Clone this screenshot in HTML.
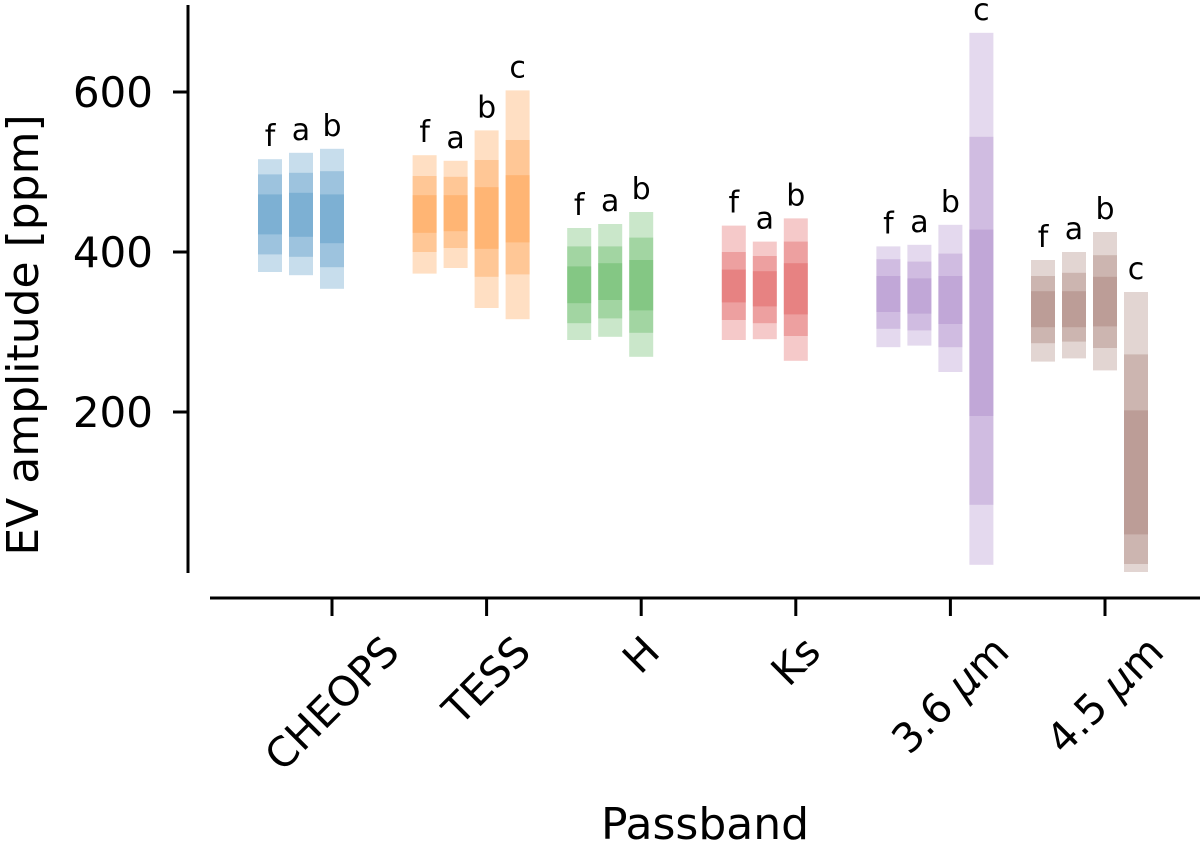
<!DOCTYPE html>
<html><head><meta charset="utf-8"><style>
body{margin:0;background:#fff}
svg{display:block;font-family:"DejaVu Sans","Liberation Sans",sans-serif}
</style></head><body>
<svg id="chart" width="1200" height="844" viewBox="0 0 1200 844"></svg>
<script>
const passbands=["CHEOPS","TESS","H","Ks","3.6 μm","4.5 μm"];
const colors=["#1f77b4","#ff7f0e","#2ca02c","#d62728","#9467bd","#8c564b"];
const planets=[["f","a","b"],["f","a","b","c"],["f","a","b"],["f","a","b"],["f","a","b","c"],["f","a","b","c"]];
// each bar: [lo3, lo2, lo1, hi1, hi2, hi3] in ppm
const cheopsVals=[[375,397,422,472,497,516],[371,394,419,474,499,524],[354,381,411,472,501,529]];
const tessVals=[[373,400,424,471,495,521],[380,405,426,471,494,514],[330,369,404,481,515,552],[316,372,412,496,540,602]];
const hVals=[[290,311,336,382,407,430],[294,317,340,386,407,435],[269,299,327,390,418,450]];
const ksVals=[[290,315,337,378,400,433],[291,311,332,376,395,413],[264,295,322,386,413,442]];
const irac1Vals=[[281,304,325,370,391,407],[283,302,323,367,388,409],[250,281,310,370,398,434],[9,84,195,428,544,674]];
const irac2Vals=[[263,286,306,351,370,390],[267,288,306,351,374,400],[252,280,307,369,396,425],[0,10,47,202,272,350]];
const allVals=[cheopsVals,tessVals,hVals,ksVals,irac1Vals,irac2Vals];
const yTicks=[200,400,600];

const NS="http://www.w3.org/2000/svg";
const svg=document.getElementById("chart");
const y=v=>572-v*0.8;
const gx=i=>332+i*154.6;
function mk(tag,attrs,parent){const e=document.createElementNS(NS,tag);for(const k in attrs)e.setAttribute(k,attrs[k]);(parent||svg).appendChild(e);return e;}

const ya=mk("line",{x1:188,y1:5,x2:188,y2:573,stroke:"#000","stroke-width":3});


const xa=mk("line",{x1:210,y1:598,x2:1200,y2:598,stroke:"#000","stroke-width":3});



yTicks.forEach(t=>{
  const l=mk("line",{x1:173,y1:y(t),x2:188,y2:y(t),stroke:"#000","stroke-width":3});
  
  
  const tx=mk("text",{x:153,y:y(t)+15,"text-anchor":"end","font-size":42});
  tx.textContent=t;
  
  
});

passbands.forEach((p,i)=>{
  const x=gx(i);
  const l=mk("line",{x1:x,y1:598,x2:x,y2:616,stroke:"#000","stroke-width":3});
  
  
  const t=mk("text",{"text-anchor":"middle","font-size":41,"dominant-baseline":"central"});
  if(p.indexOf("μ")>=0){
    const parts=p.split("μ");
    const s1=mk("tspan",{},t);s1.textContent=parts[0];
    const s2=mk("tspan",{"font-style":"italic"},t);s2.textContent="μ";
    const s3=mk("tspan",{},t);s3.textContent=parts[1];
  } else t.textContent=p;
  
  
  const w=t.getComputedTextLength(),h=34;
  const bh=(w+h)/Math.SQRT2;
  const cy=632+bh/2;
  t.setAttribute("x",x);t.setAttribute("y",cy);
  t.setAttribute("transform",`rotate(-45 ${x} ${cy})`);

  const vals=allVals[i];
  vals.forEach((b,j)=>{
    const cx=x+(j-2)*31;
    const g=mk("g",{});
    
    
    for(let k=0;k<3;k++){
      const lo=b[k],hi=b[5-k];
      mk("rect",{x:cx-12,y:y(hi),width:24,height:y(lo)-y(hi),fill:colors[i],"fill-opacity":0.25},g);
    }
    const lb=mk("text",{x:cx,y:y(b[5])-13,"text-anchor":"middle","font-size":30});
    lb.textContent=planets[i][j];
    
    
  });
});

const yt=mk("text",{x:0,y:0,"text-anchor":"middle","font-size":44,transform:"translate(38 335) rotate(-90)"});
yt.textContent="EV amplitude [ppm]";


const xt=mk("text",{x:705,y:839,"text-anchor":"middle","font-size":44});
xt.textContent="Passband";


</script>
</body></html>
